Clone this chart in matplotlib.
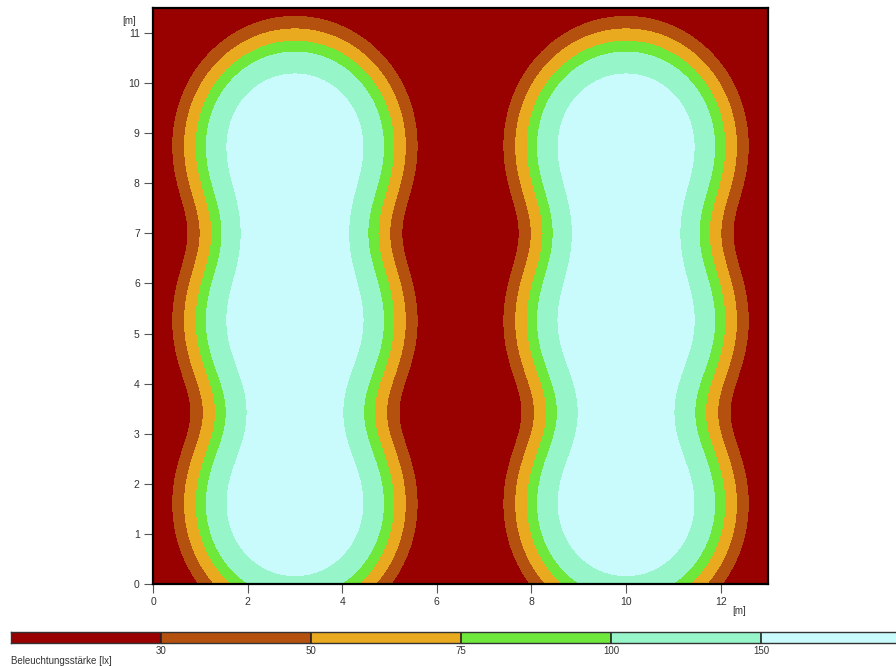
import numpy as np
import matplotlib
matplotlib.use("Agg")
import matplotlib.pyplot as plt
from matplotlib.colors import ListedColormap, BoundaryNorm

plt.rcParams['font.family'] = ['Liberation Sans', 'DejaVu Sans']

# --- data: luminaire layout and illuminance scale ---
lum_x = [3.0, 10.0]              # luminaire rows [m]
lum_y = [1.6, 5.25, 8.75]        # luminaire positions along each row [m]
E0 = 209.0                       # peak illuminance under one luminaire [lx]
R0 = 2.07                        # falloff radius [m]

room_w = 13.0
room_h = 11.5

levels = [30, 50, 75, 100, 150]
level_labels = ['30', '50', '75', '100', '150']
colors = ['#990000', '#B5510F', '#E9AA1F', '#6EE83B', '#97F6C9', '#C9FBFC']
x_ticks = [0, 2, 4, 6, 8, 10, 12]
y_ticks = list(range(0, 12))

# --- illuminance field ---
gx = np.linspace(0, room_w, 700)
gy = np.linspace(0, room_h, 620)
X, Y = np.meshgrid(gx, gy)
E = np.zeros_like(X)
for lx in lum_x:
    for ly in lum_y:
        r = np.hypot(X - lx, Y - ly)
        E += E0 * np.exp(-(r / R0) ** 3)

bounds = [0] + levels + [1e4]
cmap = ListedColormap(colors)
norm = BoundaryNorm(bounds, cmap.N)

fig = plt.figure(figsize=(8.96, 6.66), dpi=100)
ax = fig.add_axes([153 / 896, 1 - 584 / 666, 615 / 896, 576 / 666])
ax.contourf(X, Y, E, levels=bounds, colors=colors, antialiased=False)
ax.set_xlim(0, room_w)
ax.set_ylim(0, room_h)
ax.set_xticks(x_ticks)
ax.set_yticks(y_ticks)
ax.tick_params(direction='out', length=6.5, width=0.8, color='#555555',
               labelsize=7.5, labelcolor='#333333', pad=3)
for s in ax.spines.values():
    s.set_linewidth(1.6)
    s.set_color('black')
ax.text(-0.35, 11.24, '[m]', ha='right', va='center', fontsize=7, color='#333333')
ax.text(12.25, -0.53, '[m]', ha='left', va='center', fontsize=7, color='#333333')

# --- colour scale bar at the bottom ---
cax = fig.add_axes([11 / 896, 1 - 643 / 666, 900 / 896, 11 / 666])
for i, c in enumerate(colors):
    cax.barh(0, 1, left=i, height=1, color=c, edgecolor='none')
for i in range(1, len(colors)):
    cax.axvline(i, color='#222222', lw=1.2)
cax.set_xlim(0, len(colors))
cax.set_ylim(-0.5, 0.5)
cax.set_xticks([])
cax.set_yticks([])
for s in cax.spines.values():
    s.set_linewidth(1.0)
    s.set_color('#333333')
for i, lab in enumerate(level_labels):
    fig.text((11 + 150 * (i + 1)) / 896, 1 - 651 / 666, lab, ha='center', va='center',
             fontsize=7, color='#333333')
fig.text(11 / 896, 1 - 661 / 666, 'Beleuchtungsstärke [lx]', ha='left', va='center',
         fontsize=7, color='#333333')

fig.savefig('out.png', dpi=100)
